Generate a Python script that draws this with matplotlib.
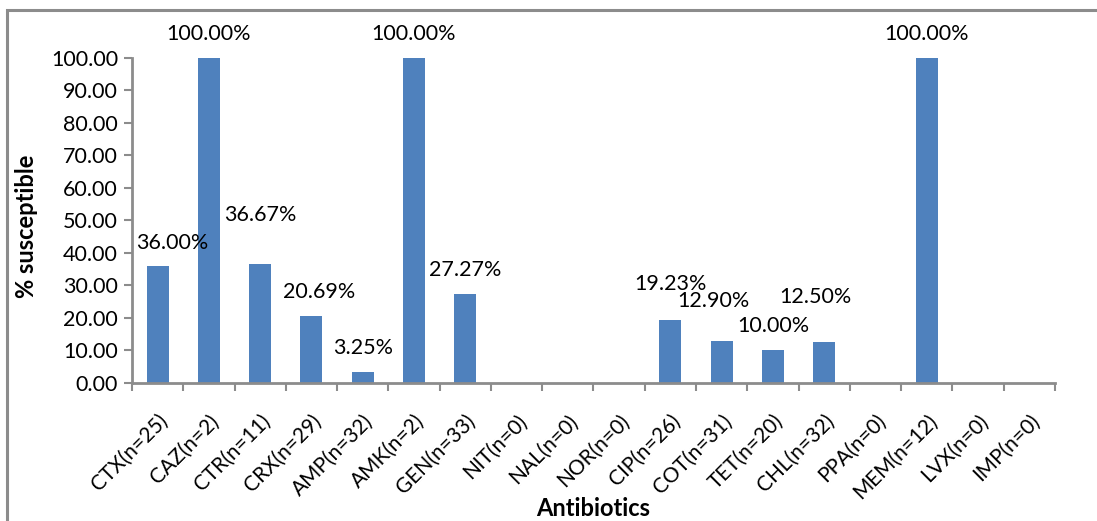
import matplotlib
matplotlib.use('Agg')
import matplotlib.pyplot as plt
import numpy as np

plt.rcParams['font.family'] = ['Lato', 'DejaVu Sans']

# Антибіотики, кількість ізолятів і частка чутливих
drugs = ['CTX', 'CAZ', 'CTR', 'CRX', 'AMP', 'AMK', 'GEN', 'NIT', 'NAL',
         'NOR', 'CIP', 'COT', 'TET', 'CHL', 'PPA', 'MEM', 'LVX', 'IMP']
n_tested = [25, 2, 11, 29, 32, 2, 33, 0, 0, 0, 26, 31, 20, 32, 0, 12, 0, 0]
susceptible = [36.00, 100.00, 36.67, 20.69, 3.25, 100.00, 27.27, 0, 0,
               0, 19.23, 12.90, 10.00, 12.50, 0, 100.00, 0, 0]

# зсув підписів (пікселі): по x і над верхом стовпчика
label_dx = [15, 0, 0, 8, 0, 0, 0, 0, 0, 0, 0, -8, 0, -9, 0, 0, 0, 0]
label_dy = [23, 24, 49, 24, 24, 24, 24, 0, 0, 0, 36, 40, 24, 45, 0, 24, 0, 0]

tick_labels = [f'{d}(n={n})' for d, n in zip(drugs, n_tested)]
x = np.arange(len(drugs))

fig = plt.figure(figsize=(10.97, 5.21), dpi=100)
ax = fig.add_axes([0.1203, 0.2649, 0.8414, 0.6247])

# рамка області діаграми
fig.patches.append(plt.Rectangle((7 / 1097, -0.1), 1.2, 1 - 9.5 / 521 + 0.1,
                                 transform=fig.transFigure, fill=False,
                                 edgecolor='#8c8c8c', linewidth=2.2))

ax.bar(x, susceptible, width=0.43, color='#4F81BD')

for i, v in enumerate(susceptible):
    if v > 0:
        ax.annotate(f'{v:.2f}%', (x[i], v), xytext=(label_dx[i] * 0.72, label_dy[i] * 0.72),
                    textcoords='offset points', ha='center', va='center',
                    fontsize=15.5, annotation_clip=False)

ax.set_xlim(-0.5, len(drugs) - 0.5)
ax.set_ylim(0, 100)
ax.set_yticks(np.arange(0, 101, 10))
ax.set_yticklabels([f'{t:.2f}' for t in np.arange(0, 101, 10)], fontsize=15.5)
ax.set_xticks(x)
ax.set_xticklabels(tick_labels, rotation=45, ha='right', rotation_mode='anchor', fontsize=15)
ax.set_xticks(np.arange(-0.5, len(drugs)), minor=True)
ax.tick_params(axis='x', which='major', length=0, pad=20)
ax.tick_params(axis='x', which='minor', length=6, width=1.5, color='#8c8c8c')
ax.tick_params(axis='y', length=6, width=1.5, color='#8c8c8c', pad=4)

for side in ['top', 'right']:
    ax.spines[side].set_visible(False)
for side in ['left', 'bottom']:
    ax.spines[side].set_color('#8c8c8c')
    ax.spines[side].set_linewidth(2)

fig.text(26 / 1097, 1 - 226 / 521, '% susceptible', fontsize=17, fontweight='bold',
         rotation=90, ha='center', va='center')
fig.text(593 / 1097, 1 - 508 / 521, 'Antibiotics', fontsize=17, fontweight='bold',
         ha='center', va='center')

fig.savefig('out.png', dpi=100)
